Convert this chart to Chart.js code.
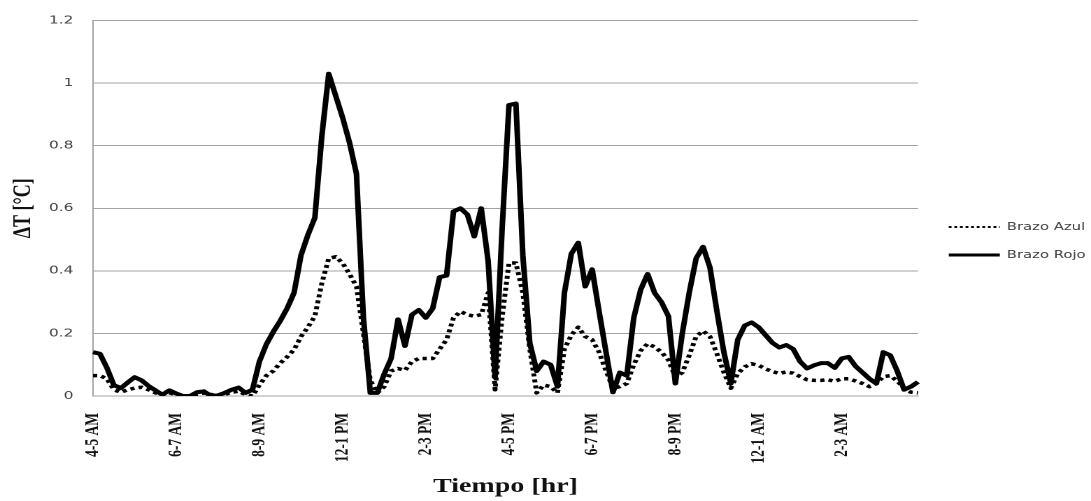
<!DOCTYPE html>
<html lang="es">
<head>
<meta charset="utf-8">
<title>Brazo Azul / Brazo Rojo</title>
<script src="https://cdn.jsdelivr.net/npm/chart.js@4.4.1/dist/chart.umd.min.js"></script>
<style>
  html, body { margin: 0; padding: 0; background: #fff; overflow: hidden; }
  #grafico { display: block; }
</style>
</head>
<body>
<!-- el original está estirado a lo ancho: se dibuja a 780 px y se muestra a 1091 px -->
<canvas id="grafico" width="780" height="501" style="width:1091px;height:501px"></canvas>
<script>
// etiquetas del eje X (una cada 12 muestras)
const horas = ['4-5 AM', '6-7 AM', '8-9 AM', '12-1 PM', '2-3 PM', '4-5 PM', '6-7 PM', '8-9 PM', '12-1 AM', '2-3 AM'];
const muestrasPorEtiqueta = 12;

const brazoAzul = [
  0.065, 0.065, 0.055, 0.02, 0.012, 0.02, 0.025, 0.028, 0.02, 0.01,
  0.005, 0.01, 0.005, 0, 0, 0.005, 0.01, 0.005, 0, 0.005,
  0.012, 0.015, 0.005, 0, 0.035, 0.065, 0.08, 0.105, 0.125, 0.148,
  0.19, 0.22, 0.255, 0.36, 0.44, 0.445, 0.425, 0.39, 0.35, 0.20,
  0.05, 0.01, 0.03, 0.08, 0.088, 0.082, 0.11, 0.12, 0.12, 0.12,
  0.15, 0.18, 0.25, 0.27, 0.26, 0.255, 0.26, 0.33, 0.02, 0.25,
  0.425, 0.425, 0.33, 0.15, 0.01, 0.035, 0.03, 0.01, 0.15, 0.195,
  0.22, 0.19, 0.18, 0.14, 0.08, 0.025, 0.03, 0.04, 0.10, 0.145,
  0.167, 0.157, 0.14, 0.115, 0.06, 0.075, 0.13, 0.19, 0.208, 0.19,
  0.135, 0.075, 0.025, 0.072, 0.093, 0.103, 0.098, 0.087, 0.078, 0.072,
  0.077, 0.073, 0.062, 0.052, 0.05, 0.05, 0.052, 0.047, 0.055, 0.055,
  0.048, 0.04, 0.03, 0.04, 0.062, 0.065, 0.048, 0.025, 0.012, 0.01
];

const brazoRojo = [
  0.14, 0.135, 0.09, 0.035, 0.025, 0.043, 0.06, 0.05, 0.032, 0.018,
  0.004, 0.018, 0.008, 0, 0, 0.012, 0.015, 0, 0.002, 0.01,
  0.02, 0.027, 0.01, 0.02, 0.11, 0.165, 0.205, 0.24, 0.28, 0.33,
  0.45, 0.515, 0.57, 0.83, 1.03, 0.96, 0.89, 0.81, 0.71, 0.25,
  0.01, 0.01, 0.07, 0.12, 0.245, 0.16, 0.26, 0.275, 0.25, 0.28,
  0.38, 0.385, 0.59, 0.60, 0.58, 0.51, 0.60, 0.43, 0.06, 0.53,
  0.93, 0.935, 0.45, 0.17, 0.08, 0.11, 0.10, 0.03, 0.33, 0.455,
  0.49, 0.35, 0.405, 0.27, 0.14, 0.012, 0.075, 0.065, 0.25, 0.34,
  0.39, 0.33, 0.30, 0.255, 0.04, 0.2, 0.33, 0.44, 0.477, 0.41,
  0.27, 0.14, 0.04, 0.18, 0.225, 0.235, 0.22, 0.195, 0.17, 0.155,
  0.163, 0.15, 0.11, 0.088, 0.098, 0.105, 0.105, 0.09, 0.12, 0.125,
  0.095, 0.075, 0.055, 0.04, 0.14, 0.13, 0.08, 0.02, 0.03, 0.045
];

const categorias = brazoRojo.map((_, i) => i % muestrasPorEtiqueta === 0 ? horas[i / muestrasPorEtiqueta] : '');

const gris = '#a3a3a3';
const serif = '"Liberation Serif", "Times New Roman", serif';

// leyenda a la derecha, algo por debajo del centro como en el original
const leyendaLateral = {
  id: 'leyendaLateral',
  afterDraw(chart) {
    const ctx = chart.ctx;
    const x0 = chart.chartArea.right + 22;
    const filas = [227, 255];
    ctx.save();
    chart.data.datasets.forEach((ds, i) => {
      const y = filas[i];
      ctx.beginPath();
      ctx.setLineDash(ds.dashLeyenda);
      ctx.lineWidth = ds.anchoLeyenda;
      ctx.strokeStyle = ds.borderColor;
      ctx.moveTo(x0, y);
      ctx.lineTo(x0 + 36.5, y);
      ctx.stroke();
      ctx.setLineDash([]);
      ctx.font = '10.6px "DejaVu Sans", Verdana, sans-serif';
      ctx.fillStyle = '#404040';
      ctx.textBaseline = 'middle';
      ctx.fillText(ds.label, x0 + 41.5, y);
    });
    ctx.restore();
  }
};

const ctx = document.getElementById('grafico').getContext('2d');
new Chart(ctx, {
  type: 'line',
  data: {
    labels: categorias,
    datasets: [{
      label: 'Brazo Azul',
      data: brazoAzul,
      borderColor: '#000',
      borderWidth: 3.5,
      borderDash: [3, 3],
      dashLeyenda: [2, 2],
      anchoLeyenda: 2,
      pointRadius: 0,
      borderJoinStyle: 'round',
      tension: 0,
      fill: false
    }, {
      label: 'Brazo Rojo',
      data: brazoRojo,
      borderColor: '#000',
      borderWidth: 4,
      dashLeyenda: [],
      anchoLeyenda: 3,
      pointRadius: 0,
      borderJoinStyle: 'round',
      tension: 0,
      fill: false
    }]
  },
  options: {
    responsive: false,
    devicePixelRatio: 2,
    animation: false,
    layout: { padding: { top: 16, right: 123.7, bottom: 0, left: 0 } },
    plugins: {
      legend: { display: false },
      tooltip: { enabled: false }
    },
    scales: {
      x: {
        grid: { display: false, drawTicks: false },
        border: { display: true, color: gris, width: 1 },
        ticks: {
          autoSkip: false,
          maxRotation: 90,
          minRotation: 90,
          padding: 17,
          color: '#111',
          font: { family: serif, size: 13.5, weight: 'bold' }
        },
        title: {
          display: true,
          text: 'Tiempo [hr]',
          color: '#111',
          padding: { top: 0, bottom: 2 },
          font: { family: serif, size: 20, weight: 'bold' }
        },
        afterFit: (eje) => { eje.height = 105; }
      },
      y: {
        min: 0,
        max: 1.2,
        ticks: {
          stepSize: 0.2,
          padding: 14,
          color: '#404040',
          font: { family: '"DejaVu Sans", Verdana, sans-serif', size: 11 },
          callback: (v) => +v.toFixed(1)
        },
        grid: { color: gris, lineWidth: 1, drawTicks: false },
        border: { display: true, color: gris, width: 1 },
        title: {
          display: true,
          text: 'ΔT [°C]',
          color: '#111',
          padding: { top: 6, bottom: 0 },
          font: { family: serif, size: 18, weight: 'bold' }
        },
        afterFit: (eje) => { eje.width = 66.5; }
      }
    }
  },
  plugins: [leyendaLateral]
});
</script>
</body>
</html>
